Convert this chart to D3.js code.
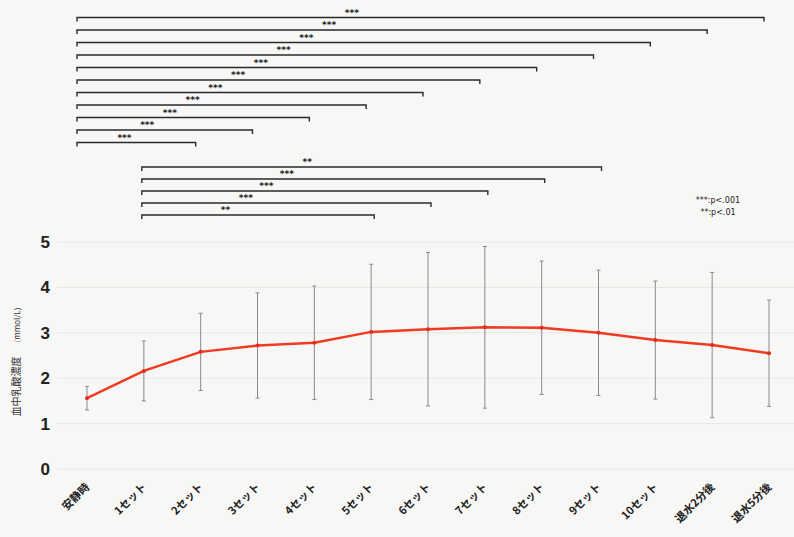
<!DOCTYPE html>
<html>
<head>
<meta charset="utf-8">
<script src="https://cdn.jsdelivr.net/npm/d3@7"></script>
<style>
  body { margin: 0; background: #f7f7f6; }
  svg { display: block; }
</style>
</head>
<body>
<svg id="chart" width="794" height="537"></svg>
<script>
// categories and values
var categories = ['安静時', '1セット', '2セット', '3セット', '4セット', '5セット', '6セット',
  '7セット', '8セット', '9セット', '10セット', '退水2分後', '退水5分後'];
var means = [1.56, 2.16, 2.58, 2.72, 2.78, 3.02, 3.08, 3.12, 3.11, 3.00, 2.84, 2.73, 2.55];
var sds = [0.26, 0.66, 0.85, 1.16, 1.25, 1.49, 1.69, 1.78, 1.47, 1.38, 1.30, 1.60, 1.17];
var yTicks = [0, 1, 2, 3, 4, 5];

// significance brackets: [from, to, label]
var restComparisons = [
  ['安静時', '退水5分後', '***'], ['安静時', '退水2分後', '***'], ['安静時', '10セット', '***'],
  ['安静時', '9セット', '***'], ['安静時', '8セット', '***'], ['安静時', '7セット', '***'],
  ['安静時', '6セット', '***'], ['安静時', '5セット', '***'], ['安静時', '4セット', '***'],
  ['安静時', '3セット', '***'], ['安静時', '2セット', '***']
];
var set1Comparisons = [
  ['1セット', '9セット', '**'], ['1セット', '8セット', '***'], ['1セット', '7セット', '***'],
  ['1セット', '6セット', '***'], ['1セット', '5セット', '**']
];
var legendLines = ['***:p<.001', '**:p<.01'];

var svg = d3.select('#chart');

var x = d3.scalePoint()
  .domain(categories)
  .range([87, 769]);

var y = d3.scaleLinear()
  .domain([0, 5])
  .range([469, 242]);

// faint grid
svg.append('g')
  .selectAll('line')
  .data(yTicks)
  .join('line')
  .attr('x1', 57)
  .attr('x2', 794)
  .attr('y1', function(d) { return y(d); })
  .attr('y2', function(d) { return y(d); })
  .attr('stroke', '#e6e6e4')
  .attr('stroke-width', 1);

// y axis labels
var yAxis = svg.append('g')
  .attr('transform', 'translate(50,0)')
  .call(d3.axisLeft(y).tickValues(yTicks).tickSize(0).tickPadding(0).tickFormat(d3.format('d')));
yAxis.select('.domain').remove();
yAxis.selectAll('text')
  .attr('font-family', 'Liberation Sans, Arial, sans-serif')
  .attr('font-weight', 'bold')
  .attr('font-size', 17)
  .attr('fill', '#222');

// y title
var yTitle = svg.append('text')
  .attr('transform', 'translate(20,362) rotate(-90)')
  .attr('text-anchor', 'middle')
  .attr('font-family', 'Noto Sans CJK JP, sans-serif')
  .attr('font-size', 10)
  .attr('fill', '#333');
yTitle.append('tspan').text('血中乳酸濃度');
yTitle.append('tspan').attr('dx', 14).attr('font-size', 8).text('(mmol/L)');

// x labels
var xAxis = svg.append('g')
  .attr('transform', 'translate(0,478)')
  .call(d3.axisBottom(x).tickSize(0).tickPadding(0));
xAxis.select('.domain').remove();
xAxis.selectAll('text')
  .attr('font-family', 'Noto Sans CJK JP, sans-serif')
  .attr('font-weight', 'bold')
  .attr('font-size', 11)
  .attr('fill', '#222')
  .attr('text-anchor', 'end')
  .attr('dy', '0.6em')
  .attr('transform', 'translate(-2,5) rotate(-45)');

// error bars
var errs = svg.append('g')
  .attr('stroke', '#8a8a8a')
  .attr('stroke-width', 1);
categories.forEach(function(c, i) {
  var cx = x(c), hi = y(means[i] + sds[i]), lo = y(means[i] - sds[i]);
  errs.append('line').attr('x1', cx).attr('x2', cx).attr('y1', hi).attr('y2', lo);
  errs.append('line').attr('x1', cx - 2).attr('x2', cx + 2).attr('y1', hi).attr('y2', hi);
  errs.append('line').attr('x1', cx - 2).attr('x2', cx + 2).attr('y1', lo).attr('y2', lo);
});

// mean line
var line = d3.line()
  .x(function(d, i) { return x(categories[i]); })
  .y(function(d) { return y(d); });

svg.append('path')
  .datum(means)
  .attr('fill', 'none')
  .attr('stroke', '#f23a22')
  .attr('stroke-width', 2.5)
  .attr('d', line);

svg.append('g')
  .selectAll('circle')
  .data(means)
  .join('circle')
  .attr('cx', function(d, i) { return x(categories[i]); })
  .attr('cy', function(d) { return y(d); })
  .attr('r', 2)
  .attr('fill', '#e82a1a');

// brackets
function drawBrackets(list, top, step, leftShift, rightShift, frac) {
  var g = svg.append('g');
  list.forEach(function(b, i) {
    var x1 = x(b[0]) + leftShift, x2 = x(b[1]) + rightShift, yy = top + i * step;
    g.append('path')
      .attr('d', 'M' + x1 + ',' + (yy + 4) + 'V' + yy + 'H' + x2 + 'V' + (yy + 4))
      .attr('fill', 'none')
      .attr('stroke', '#2a2a2a')
      .attr('stroke-width', 1.4);
    g.append('text')
      .attr('x', x1 + (x2 - x1) * frac)
      .attr('y', yy - 2)
      .attr('text-anchor', 'middle')
      .attr('font-family', 'DejaVu Sans, sans-serif')
      .attr('font-weight', 'bold')
      .attr('font-size', 9)
      .attr('fill', '#222')
      .text(b[2]);
  });
}

drawBrackets(restComparisons, 17.5, 12.5, -10, -5, 0.4);
drawBrackets(set1Comparisons, 167, 12, -2, 3, 0.36);

// legend
svg.append('g')
  .selectAll('text')
  .data(legendLines)
  .join('text')
  .attr('x', 718)
  .attr('y', function(d, i) { return 203 + i * 12; })
  .attr('text-anchor', 'middle')
  .attr('font-family', 'DejaVu Sans, sans-serif')
  .attr('font-size', 8)
  .attr('fill', '#222')
  .text(function(d) { return d; });
</script>
</body>
</html>
